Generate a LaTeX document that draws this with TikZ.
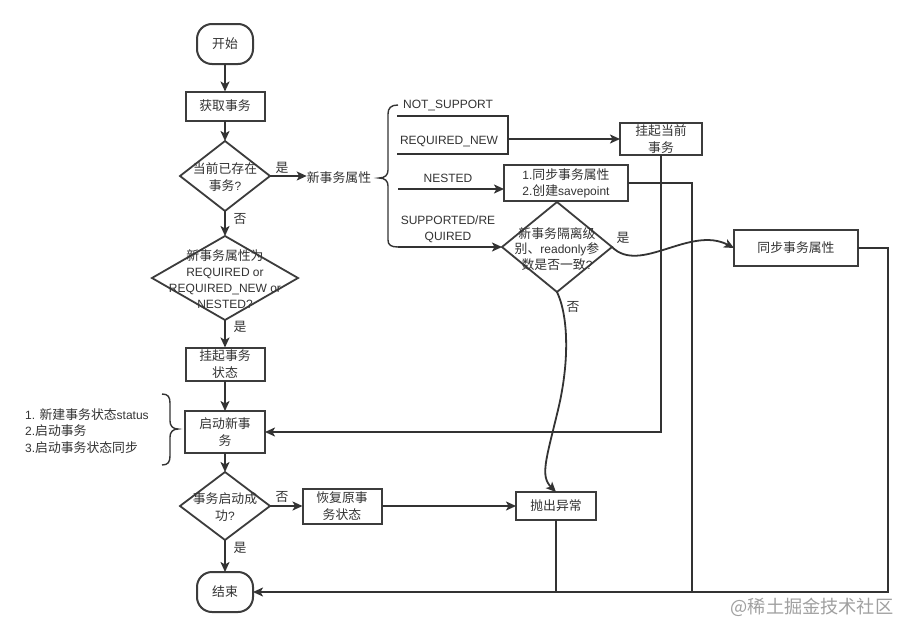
\documentclass[tikz,border=0pt]{standalone}
\usepackage{fontspec}
\setmainfont{Liberation Sans}
\newfontfamily\cjk[Scale=1.07]{Noto Sans CJK SC}
\newcommand{\zh}[1]{{\cjk #1}}
\usetikzlibrary{arrows.meta,shapes.geometric}
\definecolor{ink}{HTML}{333333}
\definecolor{bord}{HTML}{3C3C3C}
\definecolor{wm}{HTML}{A0A0A0}
\begin{document}
\begin{tikzpicture}[x=1pt,y=-1pt,
  font=\fontsize{12}{17}\selectfont, text=ink,
  ln/.style={draw=ink, line width=1.8pt},
  arr/.style={ln, -{Stealth[length=10pt,width=9pt,inset=2.5pt]}},
  box/.style={draw=bord, line width=2pt, rectangle, minimum width=80pt, minimum height=34pt, inner sep=1pt, outer sep=0pt, align=center},
  term/.style={box, rounded corners=15pt, minimum width=56pt, minimum height=40pt},
  dec/.style={draw=bord, line width=1.8pt, diamond, inner sep=0pt, outer sep=0pt},
  lbl/.style={inner sep=0pt, align=center},
  brc/.style={draw=ink, line width=1.4pt}
]
\path[fill=white] (0,0) rectangle (912,637);
\useasboundingbox (0,0) rectangle (912,637);

% left column
\node[term] (start) at (225,44) {\zh{开始}};
\node[box, minimum width=79pt, minimum height=29pt] (get) at (225,106) {\zh{获取事务}};
\node[dec, minimum width=90pt, minimum height=70pt] (d1) at (225,176) {};
\node[lbl] (d1t) at (225,177) {\zh{当前已存在}\\\zh{事务}?};
\node[lbl] (attr) at (339,178) {\zh{新事务属性}};
\node[lbl] (y1) at (282,168) {\zh{是}};
\node[lbl] (n1) at (240,219) {\zh{否}};

\node[dec, minimum width=146pt, minimum height=84pt] (d2) at (225,278) {};
\node[lbl, font=\fontsize{12}{16}\selectfont] (d2t) at (225,279) {\zh{新事务属性为}\\REQUIRED or\\REQUIRED\_NEW or\\NESTED?};
\node[lbl] (y2) at (240,327) {\zh{是}};

\node[box, minimum width=79pt, minimum height=33pt] (susp) at (225,364) {\zh{挂起事务}\\\zh{状态}};
\node[box, minimum width=80pt, minimum height=42pt] (bgn) at (225,432) {\zh{启动新事}\\\zh{务}};

\node[dec, minimum width=90pt, minimum height=68pt] (d3) at (225,506) {};
\node[lbl] (d3t) at (225,507) {\zh{事务启动成}\\\zh{功}?};
\node[lbl] (n3) at (282,497) {\zh{否}};
\node[lbl] (y3) at (240,548) {\zh{是}};
\node[box, minimum width=79pt, minimum height=35pt] (rec) at (342,506) {\zh{恢复原事}\\\zh{务状态}};
\node[box, minimum width=80pt, minimum height=28pt] (throw) at (556,506) {\zh{抛出异常}};
\node[term] (stop) at (225,592) {\zh{结束}};

% left annotation
\node[lbl, anchor=west, align=left, font=\fontsize{12}{16.5}\selectfont] (note) at (25,431) {1. \zh{新建事务状态}status\\2.\zh{启动事务}\\3.\zh{启动事务状态同步}};
\draw[brc] (162,394) .. controls (168,394) and (170,397) .. (170,403) -- (170,421) .. controls (170,426) and (173,429) .. (178,429) .. controls (173,429) and (170,432) .. (170,437) -- (170,456) .. controls (170,462) and (168,465) .. (162,465);

% right part
\draw[brc] (398,105) .. controls (391,105) and (388,108) .. (388,114) -- (388,170) .. controls (388,175) and (385,178) .. (379,178) .. controls (385,178) and (388,181) .. (388,186) -- (388,240) .. controls (388,245) and (391,247) .. (398,247);
\node[lbl] (o1) at (448,106) {NOT\_SUPPORT};
\node[lbl] (o2) at (449,142) {REQUIRED\_NEW};
\node[lbl] (o3) at (448,178) {NESTED};
\node[lbl, font=\fontsize{12}{16}\selectfont] (o4) at (448,229) {SUPPORTED/RE\\QUIRED};

\node[box, minimum width=82pt, minimum height=32pt] (hang) at (661,139) {\zh{挂起当前}\\\zh{事务}};
\node[box, minimum width=124pt, minimum height=36pt, font=\fontsize{12}{16}\selectfont] (sync1) at (566,183) {1.\zh{同步事务属性}\\2.\zh{创建}savepoint};
\node[dec, minimum width=110pt, minimum height=90pt] (d4) at (557,247) {};
\node[lbl, font=\fontsize{12}{15.5}\selectfont] (d4t) at (557,249) {\zh{新事务隔离级}\\\zh{别、}readonly\zh{参}\\\zh{数是否一致}?};
\node[lbl] (y4) at (623,238) {\zh{是}};
\node[lbl] (n4) at (573,307) {\zh{否}};
\node[box, minimum width=124pt, minimum height=36pt] (sync2) at (796,248) {\zh{同步事务属性}};

\node[lbl, text=wm, font=\fontsize{17}{20}\selectfont] (wmk) at (812,607) {\zh{@稀土掘金技术社区}};

% coordinates
\coordinate (b1) at (397,116);
\coordinate (b2) at (508,116);
\coordinate (b3) at (508,154);
\coordinate (b4) at (397,154);
\coordinate (b5) at (508,139);
\coordinate (n0) at (398,189);
\coordinate (s0) at (398,247);
\coordinate (m1) at (558,410);
\coordinate (cM) at (692,592);
\coordinate (cR) at (888,592);

% connectors
\draw[arr] (start) -- (get);
\draw[arr] (get) -- (d1);
\draw[arr] (d1.east) -- (d1.east -| attr.west);
\draw[arr] (d1) -- (d2);
\draw[arr] (d2) -- (susp);
\draw[arr] (susp) -- (bgn);
\draw[arr] (bgn) -- (d3);
\draw[arr] (d3) -- (stop);
\draw[arr] (d3) -- (rec);
\draw[arr] (rec) -- (throw);

\draw[ln] (b1) -- (b2) -- (b3) -- (b4);
\draw[arr] (b5) -- (hang);
\draw[arr] (n0) -- (n0 -| sync1.west);
\draw[arr] (s0) -- (d4);
\draw[arr] (d4.east) .. controls (640,275) and (690,225) .. (sync2.west);
\draw[arr] (d4.south) .. controls (568,315) and (570,360) .. (m1) .. controls (546,460) and (540,476) .. (throw.north);

\draw[arr] (hang) |- (bgn);
\draw[ln] (throw) -- (throw |- stop);
\draw[ln] (sync1) -| (cM);
\draw[arr] (sync2) -| (cR) -- (stop);
\end{tikzpicture}
\end{document}
